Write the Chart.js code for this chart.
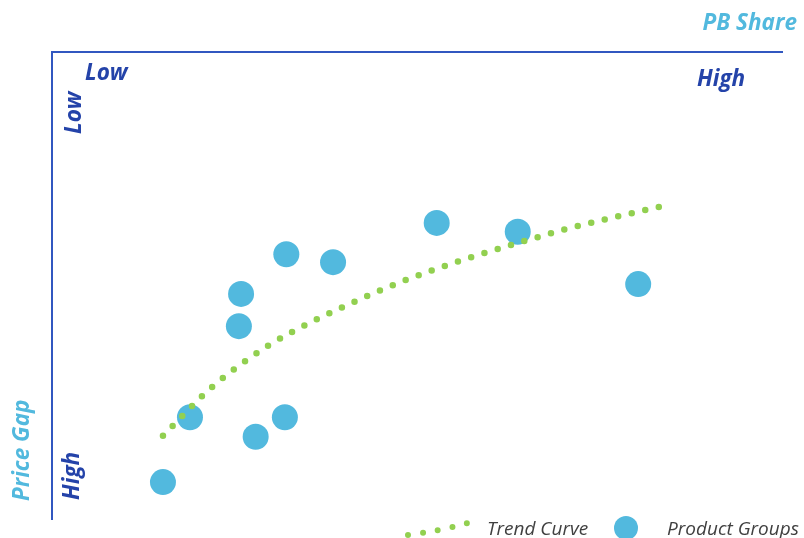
<!DOCTYPE html>
<html>
<head>
<meta charset="utf-8">
<title>PB Share / Price Gap</title>
<script src="https://cdn.jsdelivr.net/npm/chart.js@4.4.1/dist/chart.umd.min.js"></script>
<style>
html, body { margin: 0; padding: 0; background: #fff; overflow: hidden; }
#wrap { width: 804px; height: 538px; position: relative; }
</style>
</head>
<body>
<div id="wrap"><canvas id="matrix-chart"></canvas></div>
<script>
// Product groups: PB share (x, 0-100) against price gap (y, 0 = low gap at the top)
var groupShare = [15.2, 18.9, 27.9, 31.9, 25.6, 25.9, 32.1, 38.5, 52.7, 63.8, 80.3];
var groupGap   = [92.1, 78.2, 82.4, 78.2, 58.7, 51.8, 43.3, 45.0, 36.6, 38.5, 49.7];

// Trend curve
var trendShare = [15.2, 21.8, 29.3, 35.8, 40.7, 47.7, 56.3, 63.4, 70.5, 77.8, 83.4];
var trendGap   = [82.2, 71.9, 63.2, 57.6, 54.0, 49.3, 44.5, 41.1, 37.9, 35.1, 33.1];

var endLabels    = ["Low", "High"];
var axisTitles   = ["PB Share", "Price Gap"];
var legendLabels = ["Trend Curve", "Product Groups"];

var lightBlue = "#52b9de";
var darkBlue  = "#2443a9";
var lineBlue  = "#3157c0";
var green     = "#92d050";
var labelFont = "italic bold 22.5px 'Open Sans'";

function toPoints(xs, ys) {
	var pts = [];
	for (var i = 0; i < xs.length; i++) pts.push({x: xs[i], y: ys[i]});
	return pts;
}

// corner labels, axis titles and the legend
var labelsPlugin = {
	id: "matrixLabels",
	afterDraw: function(chart) {
		var ctx = chart.ctx;
		var a = chart.chartArea;
		ctx.save();
		ctx.textBaseline = "alphabetic";
		ctx.font = labelFont;

		ctx.fillStyle = lightBlue;
		ctx.textAlign = "right";
		ctx.fillText(axisTitles[0], 797, 30);

		ctx.fillStyle = darkBlue;
		ctx.textAlign = "left";
		ctx.fillText(endLabels[0], a.left + 33, 80);
		ctx.fillText(endLabels[1], 697, 86);

		// rotated labels on the price gap side
		ctx.save();
		ctx.translate(81, 134);
		ctx.rotate(-Math.PI / 2);
		ctx.fillText(endLabels[0], 0, 0);
		ctx.restore();

		ctx.save();
		ctx.translate(79, 500);
		ctx.rotate(-Math.PI / 2);
		ctx.fillText(endLabels[1], 0, 0);
		ctx.restore();

		ctx.save();
		ctx.fillStyle = lightBlue;
		ctx.translate(29, 501);
		ctx.rotate(-Math.PI / 2);
		ctx.fillText(axisTitles[1], 0, 0);
		ctx.restore();

		// legend
		ctx.strokeStyle = green;
		ctx.lineWidth = 6;
		ctx.lineCap = "round";
		ctx.setLineDash([0, 15]);
		ctx.beginPath();
		ctx.moveTo(408, 535);
		ctx.quadraticCurveTo(440, 531, 468, 523);
		ctx.stroke();
		ctx.setLineDash([]);

		ctx.fillStyle = lightBlue;
		ctx.beginPath();
		ctx.arc(626, 528, 12, 0, Math.PI * 2);
		ctx.fill();

		ctx.fillStyle = "#404040";
		ctx.font = "italic 19px 'Open Sans'";
		ctx.fillText(legendLabels[0], 487, 535);
		ctx.fillText(legendLabels[1], 667, 535);
		ctx.restore();
	}
};

new Chart(document.getElementById("matrix-chart"), {
	type: "scatter",
	data: {
		datasets: [
			{
				label: legendLabels[0],
				type: "line",
				data: toPoints(trendShare, trendGap),
				borderColor: green,
				borderWidth: 6.5,
				borderCapStyle: "round",
				borderDash: [0, 13.88],
				cubicInterpolationMode: "monotone",
				pointRadius: 0,
				fill: false
			},
			{
				label: legendLabels[1],
				data: toPoints(groupShare, groupGap),
				backgroundColor: lightBlue,
				borderWidth: 0,
				pointRadius: 13,
				pointHoverRadius: 13
			}
		]
	},
	plugins: [labelsPlugin],
	options: {
		responsive: true,
		maintainAspectRatio: false,
		animation: false,
		layout: { padding: { left: 52, top: 52, right: 22, bottom: 19 } },
		plugins: {
			legend: { display: false },
			tooltip: { enabled: false },
			title: { display: false }
		},
		scales: {
			x: {
				type: "linear",
				position: "top",
				min: 0,
				max: 100,
				grid: { display: false, drawTicks: false },
				ticks: { display: false },
				border: { display: true, color: lineBlue, width: 2 }
			},
			y: {
				type: "linear",
				position: "left",
				reverse: true,
				min: 0,
				max: 100,
				grid: { display: false, drawTicks: false },
				ticks: { display: false },
				border: { display: true, color: lineBlue, width: 2 }
			}
		}
	}
});
</script>
</body>
</html>
